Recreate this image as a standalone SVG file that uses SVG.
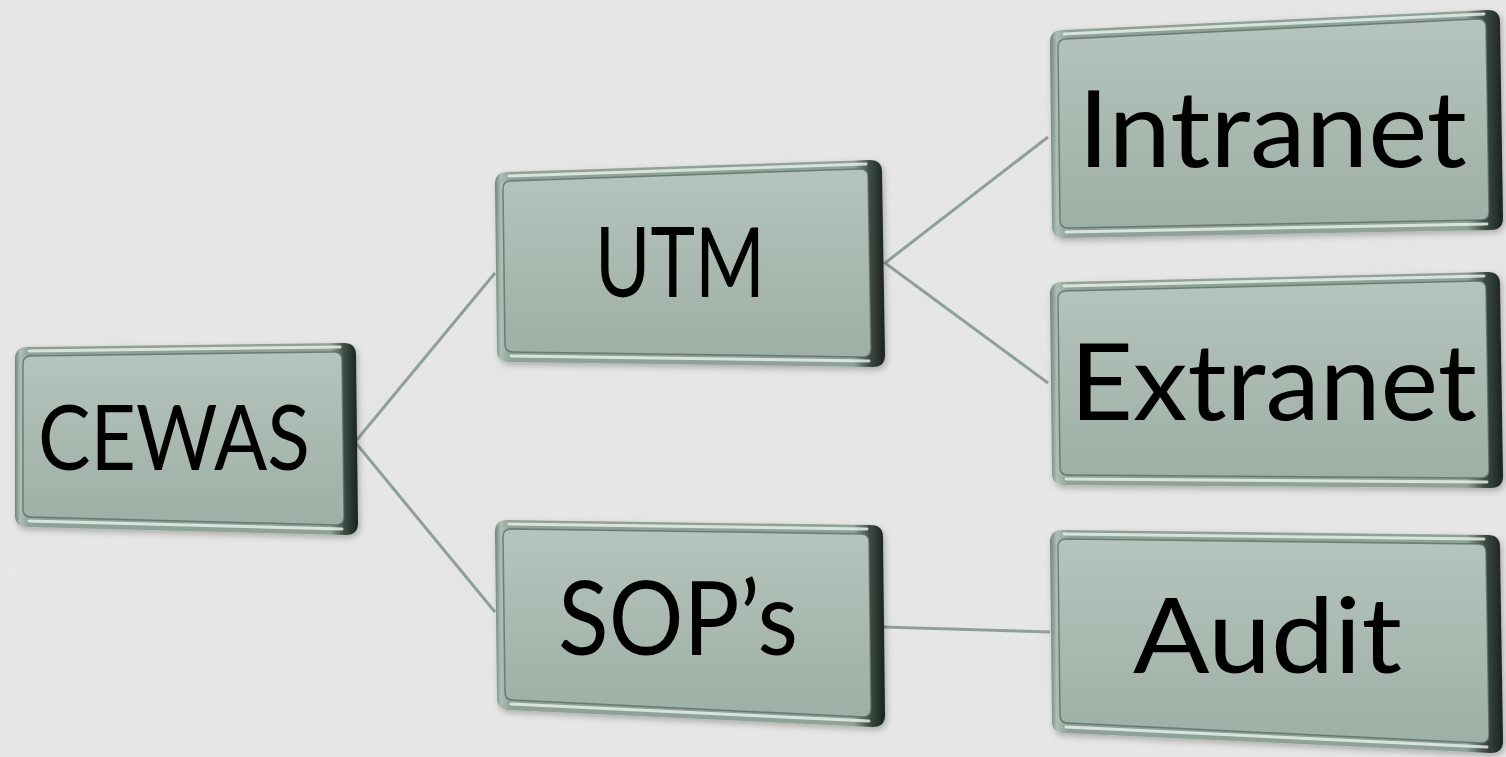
<svg xmlns="http://www.w3.org/2000/svg" width="1506" height="757" viewBox="0 0 1506 757">
<defs>
<linearGradient id="rim" x1="0" y1="0" x2="1" y2="0">
<stop offset="0" stop-color="#6f8479"/>
<stop offset="0.015" stop-color="#aebfb6"/>
<stop offset="0.04" stop-color="#8ea297"/>
<stop offset="0.92" stop-color="#8ea297"/>
<stop offset="0.96" stop-color="#3d4b44"/>
<stop offset="1" stop-color="#1a221e"/>
</linearGradient>
<linearGradient id="face" x1="0" y1="0" x2="0" y2="1">
<stop offset="0" stop-color="#b5c4bc"/>
<stop offset="1" stop-color="#9eafa5"/>
</linearGradient>
<filter id="sh" x="-5%" y="-5%" width="115%" height="120%">
<feDropShadow dx="2" dy="3" stdDeviation="3" flood-color="#000" flood-opacity="0.25"/>
</filter>
<filter id="noise" x="0" y="0" width="100%" height="100%">
<feTurbulence type="fractalNoise" baseFrequency="0.02" numOctaves="3" seed="4"/>
<feColorMatrix type="matrix" values="0 0 0 0 0.5  0 0 0 0 0.5  0 0 0 0 0.5  0 0 0 0.06 0"/>
</filter>
</defs>
<style>
.rim{fill:url(#rim);filter:url(#sh)}
.face{fill:url(#face);stroke:#55655d;stroke-width:1.5;stroke-opacity:0.7}
.hl{fill:none;stroke:#e6efea;stroke-width:3;stroke-linecap:round;opacity:0.85}
.lbl{font-family:Lato,"Liberation Sans",Arial,sans-serif;font-weight:400;fill:#000}
.con{fill:none;stroke:#8fa099;stroke-width:3;stroke-linejoin:miter}
</style>
<rect width="1506" height="757" fill="#e7e7e7"/>
<rect width="1506" height="757" filter="url(#noise)"/>
<g id="connectors">
<path class="con" d="M495,273 L355,442 L495,612"/>
<path class="con" d="M1048,137 L885,263 L1048,383"/>
<path class="con" d="M883,627 L1050,632"/>
</g>
<g id="cewas">
<path class="rim" d="M27,347 L344,343 Q356,343 356,355 L358,523 Q358,535 346,535 L27,527 Q15,527 15,515 L15,359 Q15,347 27,347 Z"/>
<path class="face" d="M31,356 L334,352 Q342,352 342,360 L344,517 Q344,525 336,525 L31,517 Q23,517 23,509 L23,364 Q23,356 31,356 Z"/>
<path class="hl" d="M29,351 L340,347 M29,521 L342,529"/>
<text class="lbl" x="38" y="470" font-size="91" textLength="272" lengthAdjust="spacingAndGlyphs">CEWAS</text>
</g>
<g id="utm">
<path class="rim" d="M507,172 L870,160 Q882,160 882,172 L885,355 Q885,367 873,367 L509,362 Q497,362 497,350 L495,184 Q495,172 507,172 Z"/>
<path class="face" d="M511,181 L860,169 Q868,169 868,177 L871,349 Q871,357 863,357 L513,352 Q505,352 505,344 L503,189 Q503,181 511,181 Z"/>
<path class="hl" d="M509,176 L866,164 M511,356 L869,361"/>
<text class="lbl" x="595" y="297" font-size="96" textLength="170" lengthAdjust="spacingAndGlyphs">UTM</text>
</g>
<g id="intranet">
<path class="rim" d="M1062,30 L1488,10 Q1500,10 1500,22 L1503,218 Q1503,230 1491,230 L1064,238 Q1052,238 1052,226 L1050,42 Q1050,30 1062,30 Z"/>
<path class="face" d="M1066,39 L1478,19 Q1486,19 1486,27 L1489,212 Q1489,220 1481,220 L1068,228 Q1060,228 1060,220 L1058,47 Q1058,39 1066,39 Z"/>
<path class="hl" d="M1064,34 L1484,14 M1066,232 L1487,224"/>
<text class="lbl" x="1078" y="167" font-size="107" textLength="389" lengthAdjust="spacingAndGlyphs">Intranet</text>
</g>
<g id="extranet">
<path class="rim" d="M1062,282 L1488,272 Q1500,272 1500,284 L1503,476 Q1503,488 1491,488 L1064,485 Q1052,485 1052,473 L1050,294 Q1050,282 1062,282 Z"/>
<path class="face" d="M1066,291 L1478,281 Q1486,281 1486,289 L1489,470 Q1489,478 1481,478 L1068,475 Q1060,475 1060,467 L1058,299 Q1058,291 1066,291 Z"/>
<path class="hl" d="M1064,286 L1484,276 M1066,479 L1487,482"/>
<text class="lbl" x="1070" y="420" font-size="107" textLength="407" lengthAdjust="spacingAndGlyphs">Extranet</text>
</g>
<g id="sops">
<path class="rim" d="M507,520 L871,525 Q883,525 883,537 L885,715 Q885,727 873,727 L509,710 Q497,710 497,698 L495,532 Q495,520 507,520 Z"/>
<path class="face" d="M511,529 L861,534 Q869,534 869,542 L871,709 Q871,717 863,717 L513,700 Q505,700 505,692 L503,537 Q503,529 511,529 Z"/>
<path class="hl" d="M509,524 L867,529 M511,704 L869,721"/>
<text class="lbl" x="558" y="655" font-size="102" textLength="240" lengthAdjust="spacingAndGlyphs">SOP’s</text>
</g>
<g id="audit">
<path class="rim" d="M1062,530 L1488,535 Q1500,535 1500,547 L1503,741 Q1503,753 1491,753 L1064,733 Q1052,733 1052,721 L1050,542 Q1050,530 1062,530 Z"/>
<path class="face" d="M1066,539 L1478,544 Q1486,544 1486,552 L1489,735 Q1489,743 1481,743 L1068,723 Q1060,723 1060,715 L1058,547 Q1058,539 1066,539 Z"/>
<path class="hl" d="M1064,534 L1484,539 M1066,727 L1487,747"/>
<text class="lbl" x="1133" y="673" font-size="104" textLength="269" lengthAdjust="spacingAndGlyphs">Audit</text>
</g>
</svg>
